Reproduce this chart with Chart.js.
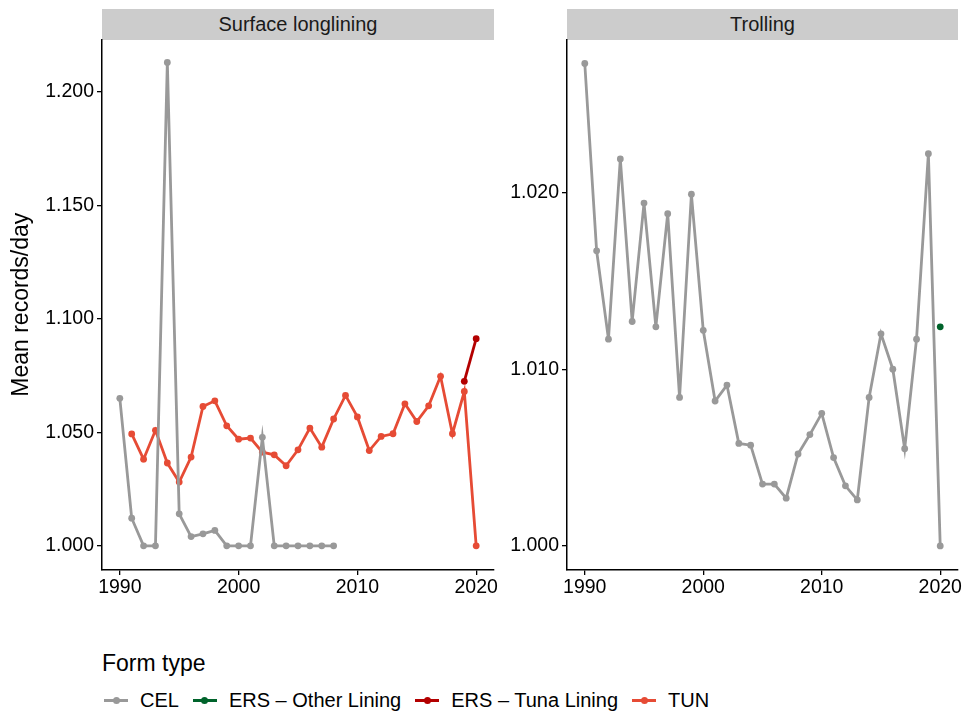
<!DOCTYPE html>
<html>
<head>
<meta charset="utf-8">
<script src="https://cdn.jsdelivr.net/npm/chart.js@4"></script>
<style>
  body { margin:0; background:#fff; font-family:"Liberation Sans", Arial, sans-serif; }
  #wrap { position:relative; width:964px; height:715px; }
  .strip { position:absolute; top:9px; height:31px; background:#cccccc; color:#1a1a1a;
           font-size:20px; text-align:center; line-height:31px; }
  canvas { position:absolute; }
  #legendTitle { position:absolute; left:102px; top:649px; font-size:23px; color:#000; line-height:28px; }
  #legend { position:absolute; left:104px; top:688px; font-size:20px; color:#000; display:flex; align-items:center; line-height:24px; }
  .item { display:flex; align-items:center; margin-right:14px; }
  .key { position:relative; width:24px; height:12px; margin-right:12px; }
  .key .ln { position:absolute; left:0; right:0; top:4.5px; height:3px; }
  .key .pt { position:absolute; left:8.5px; top:2.5px; width:7px; height:7px; border-radius:50%; }
</style>
</head>
<body>
<div id="wrap">
  <div class="strip" style="left:102px;width:392px;">Surface longlining</div>
  <div class="strip" style="left:567px;width:391px;">Trolling</div>
  <canvas id="leftChart" style="left:0;top:36px;" width="500" height="564"></canvas>
  <canvas id="rightChart" style="left:505px;top:36px;" width="459" height="564"></canvas>
  <div id="legendTitle">Form type</div>
  <div id="legend"></div>
</div>
<script>
// years
var yearsAll = [1990,1991,1992,1993,1994,1995,1996,1997,1998,1999,2000,2001,2002,2003,2004,2005,
  2006,2007,2008,2009,2010,2011,2012,2013,2014,2015,2016,2017,2018,2019,2020];

// Surface longlining
var slCelYears = [1990,1991,1992,1993,1994,1995,1996,1997,1998,1999,2000,2001,2002,2003,2004,2005,2006,2007,2008];
var slCel = [1.065,1.0122,1.000,1.000,1.213,1.0141,1.0041,1.0053,1.0068,1.000,1.000,1.000,1.0478,
  1.000,1.000,1.000,1.000,1.000,1.000];
var slTunYears = yearsAll.slice(1);
var slTun = [1.0493,1.0382,1.0509,1.0365,1.0281,1.0391,1.0614,1.0639,1.0529,1.0470,1.0475,1.0413,
  1.0401,1.0353,1.0423,1.0519,1.0435,1.0559,1.0663,1.0568,1.0420,1.0482,1.0494,1.0626,1.0548,
  1.0617,1.0747,1.0494,1.0680,1.000];
var slErsTunaYears = [2019,2020];
var slErsTuna = [1.0725,1.0913];

// Trolling
var trCel = [1.0273,1.0167,1.0117,1.0219,1.0127,1.0194,1.0124,1.0188,1.0084,1.0199,1.0122,1.0082,
  1.0091,1.0058,1.0057,1.0035,1.0035,1.0027,1.0052,1.0063,1.0075,1.0050,1.0034,1.0026,1.0084,
  1.0120,1.0100,1.0055,1.0117,1.0222,1.000];
var trErsOtherYears = [2020];
var trErsOther = [1.0124];

var xTicks = [1990,2000,2010,2020];
var slYTicks = [1.00,1.05,1.10,1.15,1.20];
var trYTicks = [1.000,1.010,1.020];

var colors = { 'CEL':'#999999', 'ERS \u2013 Other Lining':'#00632b', 'ERS \u2013 Tuna Lining':'#b30000', 'TUN':'#e64b35' };

function pts(xs, ys){ return xs.map(function(x,i){ return {x:x, y:ys[i]}; }); }
function ds(name, xs, ys){
  return { label:name, data:pts(xs,ys), borderColor:colors[name], backgroundColor:colors[name],
    borderWidth:2.8, pointRadius:3.4, pointHoverRadius:3.4, pointBorderWidth:0, tension:0 };
}
function noPad(s){ s.paddingTop = 0; s.paddingBottom = 0; s.paddingLeft = 0; s.paddingRight = 0; }

function makeChart(id, datasets, yMin, yMax, yTicks, yWidth, showTitle){
  var ctx = document.getElementById(id).getContext('2d');
  var tickFont = { family:'"Liberation Sans", Arial, sans-serif', size:19.5 };
  return new Chart(ctx, {
    type:'line',
    data:{ datasets:datasets },
    options:{
      responsive:false, animation:false,
      layout:{ padding:{ top:0, right:6, bottom:0, left:0 } },
      plugins:{ legend:{ display:false }, tooltip:{ enabled:false } },
      scales:{
        x:{ type:'linear', min:1988.5, max:2021.5,
          afterBuildTicks:function(s){ s.ticks = xTicks.map(function(v){ return {value:v}; }); },
          afterFit:function(s){ s.height = 30; noPad(s); },
          grid:{ drawOnChartArea:false, drawTicks:true, tickLength:5, tickColor:'#000', lineWidth:1.3 },
          border:{ display:true, color:'#000', width:1.5 },
          ticks:{ color:'#000', font:tickFont, padding:1, maxRotation:0,
            callback:function(v){ return String(v); } }
        },
        y:{ type:'linear', min:yMin, max:yMax,
          afterBuildTicks:function(s){ s.ticks = yTicks.map(function(v){ return {value:v}; }); },
          afterFit:function(s){ s.width = yWidth; noPad(s); },
          grid:{ drawOnChartArea:false, drawTicks:true, tickLength:5, tickColor:'#000', lineWidth:1.3 },
          border:{ display:true, color:'#000', width:1.5 },
          title:{ display:showTitle, text:'Mean records/day', color:'#000',
            font:{ family:'"Liberation Sans", Arial, sans-serif', size:23 }, padding:{ top:8, bottom:0 } },
          ticks:{ color:'#000', font:tickFont, padding:3,
            callback:function(v){ return v.toFixed(3); } }
        }
      }
    }
  });
}

makeChart('leftChart', [
  ds('CEL', slCelYears, slCel),
  ds('TUN', slTunYears, slTun),
  ds('ERS \u2013 Tuna Lining', slErsTunaYears, slErsTuna)
], 0.98937, 1.22313, slYTicks, 102, true);

makeChart('rightChart', [
  ds('CEL', yearsAll, trCel),
  ds('ERS \u2013 Other Lining', trErsOtherYears, trErsOther)
], 0.998635, 1.028665, trYTicks, 62, false);

// legend
var legend = document.getElementById('legend');
Object.keys(colors).forEach(function(name){
  var item = document.createElement('div');
  item.className = 'item';
  item.innerHTML = '<span class="key"><span class="ln" style="background:'+colors[name]+'"></span>' +
    '<span class="pt" style="background:'+colors[name]+'"></span></span><span>'+name+'</span>';
  legend.appendChild(item);
});
</script>
</body>
</html>
